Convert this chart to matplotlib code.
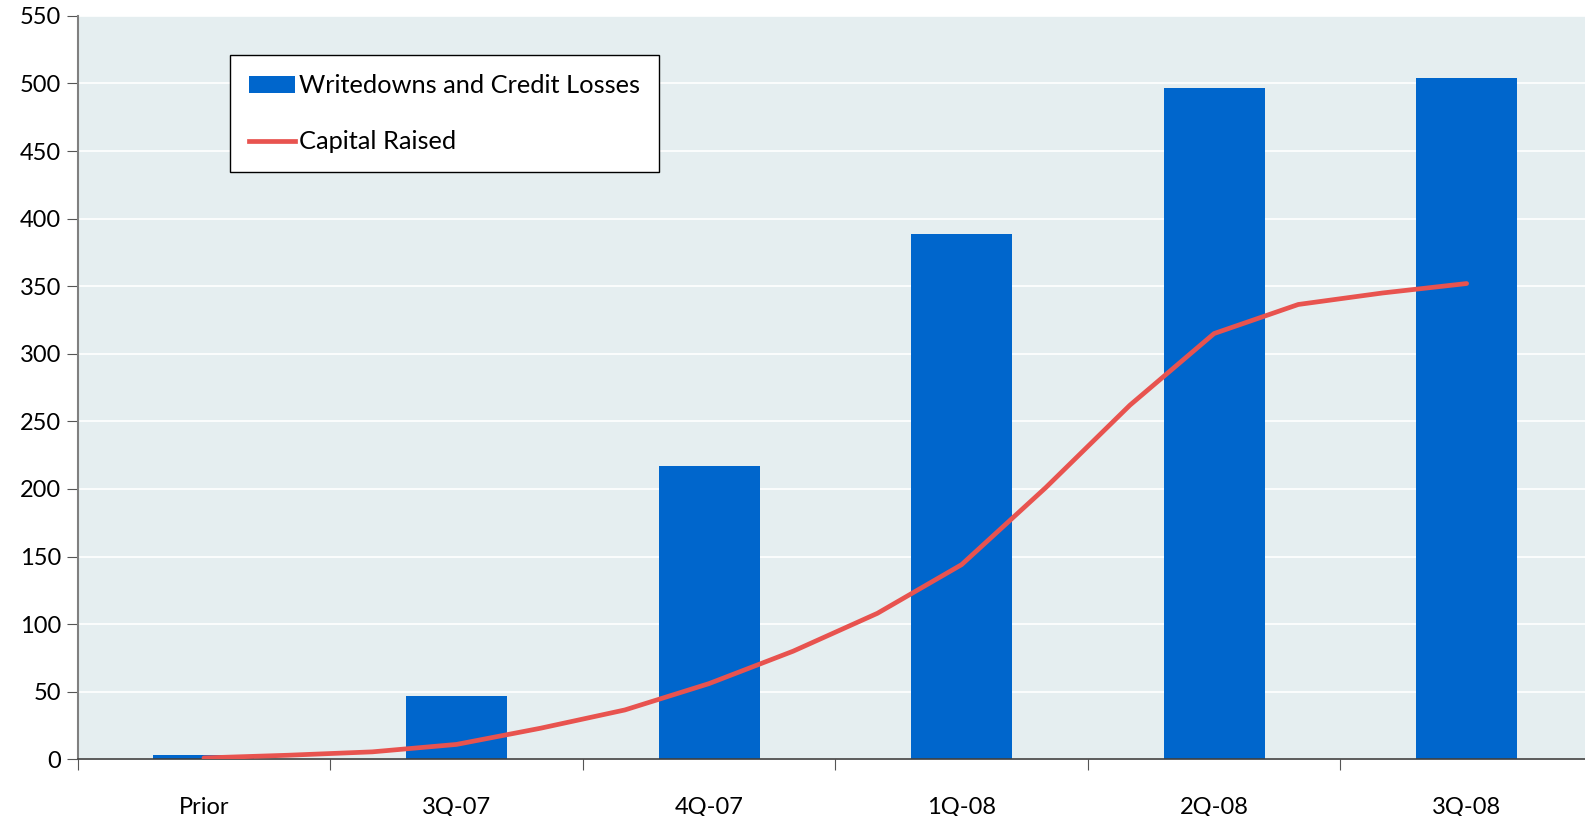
import numpy as np
import matplotlib
matplotlib.use('Agg')
import matplotlib.pyplot as plt
from matplotlib.patches import Patch
from matplotlib.lines import Line2D

plt.rcParams['font.family'] = ['Lato', 'DejaVu Sans']

# Data
categories = ['Prior', '3Q-07', '4Q-07', '1Q-08', '2Q-08', '3Q-08']
writedowns = [3, 47, 217, 389, 497, 504]

# Capital raised, monthly points from Prior to 3Q-08
capital_months = np.arange(16) / 3.0
capital_raised = [1, 3, 5.5, 11, 23, 36.5, 56, 80, 108, 144, 201, 262, 315, 336.5, 345, 352]

bar_color = '#0066CC'
line_color = '#E8534F'
bg_color = '#E5EEF0'

fig = plt.figure(figsize=(15.85, 8.16), dpi=100)
ax = fig.add_axes([0.049, 0.0695, 0.956, 0.911])
ax.set_facecolor(bg_color)

x = np.arange(len(categories))
ax.bar(x, writedowns, width=0.40, color=bar_color, zorder=2)
ax.plot(capital_months, capital_raised, color=line_color, lw=3.4, zorder=3,
        solid_capstyle='round', solid_joinstyle='round')

ax.set_xlim(-0.5, len(categories) - 0.5)
ax.set_ylim(0, 550)
ax.set_yticks(np.arange(0, 551, 50))
ax.grid(axis='y', color='white', lw=1.2, zorder=1)
ax.set_axisbelow(True)

# ticks on category boundaries, labels at centers
ax.set_xticks(np.arange(len(categories) + 1) - 0.5)
ax.set_xticklabels([])
ax.set_xticks(x, minor=True)
ax.set_xticklabels(categories, minor=True)
ax.tick_params(axis='x', which='major', length=8, direction='out', color='#555555')
ax.tick_params(axis='x', which='minor', length=0, pad=27, labelsize=17)
ax.tick_params(axis='y', length=8, color='#555555', labelsize=17, pad=4)

for s in ['top', 'right']:
    ax.spines[s].set_visible(False)
ax.spines['left'].set_color('#808080')
ax.spines['left'].set_linewidth(1.5)
ax.spines['bottom'].set_color('#404040')
ax.spines['bottom'].set_linewidth(1.2)

handles = [Patch(facecolor=bar_color, edgecolor='none'),
           Line2D([0], [0], color=line_color, lw=3.4)]
leg = ax.legend(handles, ['Writedowns and Credit Losses', 'Capital Raised'],
                loc='upper left', bbox_to_anchor=(0.1005, 0.947), fontsize=18.3,
                frameon=True, fancybox=False, borderpad=0.75, labelspacing=1.3,
                handlelength=1.8, handletextpad=0.15, borderaxespad=0)
leg.get_frame().set_edgecolor('black')
leg.get_frame().set_linewidth(1.0)
leg.get_frame().set_facecolor('white')
leg.get_frame().set_alpha(1)

fig.savefig('out.png', dpi=100)
